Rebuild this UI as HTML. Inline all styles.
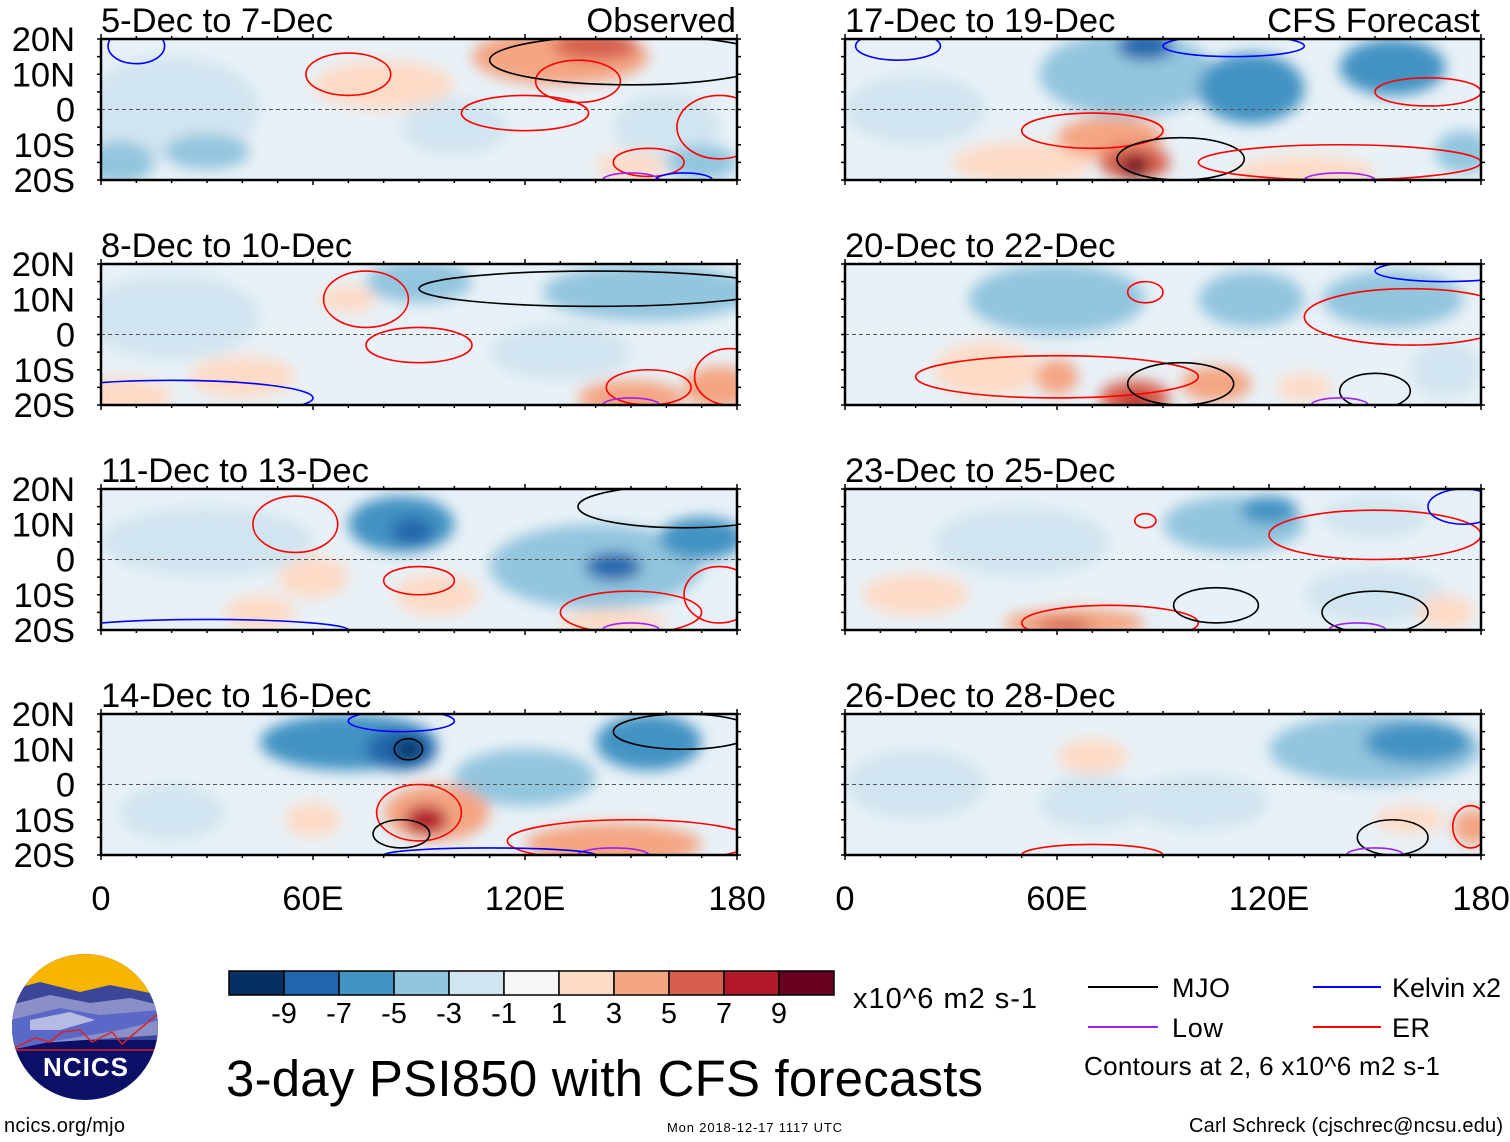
<!DOCTYPE html>
<html><head><meta charset="utf-8">
<style>
html,body{margin:0;padding:0;background:#fff;width:1510px;height:1142px;overflow:hidden;font-family:"Liberation Sans",Arial,sans-serif;}
svg text{font-family:"Liberation Sans",Arial,sans-serif;}
</style></head>
<body>
<svg id="fig" width="1510" height="1142" viewBox="0 0 1510 1142" xmlns="http://www.w3.org/2000/svg">
<defs>
<filter id="blur" x="-50%" y="-50%" width="200%" height="200%"><feGaussianBlur stdDeviation="7"/></filter>
<clipPath id="logoclip"><circle cx="85" cy="1027" r="73"/></clipPath>
</defs>
<g id="panels"></g>

<g id="colorbar"></g>
<text x="853" y="1008" font-size="29" textLength="184">x10^6 m2 s-1</text>

<g clip-path="url(#logoclip)">
<rect x="10" y="950" width="150" height="160" fill="#0b0f66"/>
<rect x="10" y="950" width="150" height="60" fill="#f7b500"/>
<path d="M10 990 L40 982 L80 992 L110 985 L160 995 L160 1040 L10 1040Z" fill="#3b4699"/>
<path d="M10 1005 L50 995 L90 1003 L130 998 L160 1005 L160 1035 L10 1045Z" fill="#8a8fc8"/>
<path d="M10 1020 L60 1008 L100 1015 L160 1010 L160 1020 L120 1030 L60 1040 L10 1050Z" fill="#5a68c8"/>
<path d="M30 1020 L70 1012 L95 1020 L60 1030 L30 1030Z" fill="#b6bbe6"/>
<path d="M10 1050 L35 1038 L50 1042 L62 1032 L80 1030 L92 1042 L112 1032 L122 1044 L160 1012 L160 1050Z" fill="none" stroke="#e02020" stroke-width="1.5"/>
</g>
<text x="86" y="1076" font-size="26" font-weight="bold" fill="#fff" text-anchor="middle" letter-spacing="1">NCICS</text>
<text x="4" y="1132" font-size="20" textLength="121">ncics.org/mjo</text>
<text x="226" y="1096" font-size="51" textLength="757">3-day PSI850 with CFS forecasts</text>
<text x="667" y="1132" font-size="13" textLength="175">Mon 2018-12-17 1117 UTC</text>
<text x="1189" y="1132" font-size="20" textLength="314">Carl Schreck (cjschrec@ncsu.edu)</text>

<g>
<line x1="1088" y1="987" x2="1158" y2="987" stroke="#000" stroke-width="2"/>
<text x="1172" y="997" font-size="27" textLength="58">MJO</text>
<line x1="1313" y1="987" x2="1381" y2="987" stroke="#0000ff" stroke-width="2"/>
<text x="1392" y="997" font-size="27" textLength="109">Kelvin x2</text>
<line x1="1088" y1="1027" x2="1158" y2="1027" stroke="#a020f0" stroke-width="2"/>
<text x="1172" y="1037" font-size="27" textLength="51">Low</text>
<line x1="1313" y1="1027" x2="1381" y2="1027" stroke="#ff0000" stroke-width="2"/>
<text x="1392" y="1037" font-size="27" textLength="38">ER</text>
<text x="1084" y="1075" font-size="26" textLength="356">Contours at 2, 6 x10^6 m2 s-1</text>
</g>
</svg>
<script>
const NS='http://www.w3.org/2000/svg';
const binEdges=[-9,-7,-5,-3,-1,1,3,5,7,9];
const binColors=['#053061','#2166ac','#4393c3','#92c5de','#d1e5f0','#f7f7f7','#fddbc7','#f4a582','#d6604d','#b2182b','#67001f'];
const colorbarLabels=['-9','-7','-5','-3','-1','1','3','5','7','9'];
const lonTickLabels=['0','60E','120E','180'];
const lonTickValues=[0,60,120,180];
const latTickLabels=['20N','10N','0','10S','20S'];
const latTickValues=[20,10,0,-10,-20];
const panelTitles=['5-Dec to 7-Dec','8-Dec to 10-Dec','11-Dec to 13-Dec','14-Dec to 16-Dec','17-Dec to 19-Dec','20-Dec to 22-Dec','23-Dec to 25-Dec','26-Dec to 28-Dec'];
const blobs0=[[20,0,25,15,-2],[30,-12,12,5,-4],[5,-15,10,6,-4],[80,7,20,7,2],[130,15,25,8,4],[140,18,12,4,6],[170,-15,10,5,-3],[160,-5,15,10,-2],[100,-5,15,8,-2],[150,-16,10,4,3]];
const blobs1=[[20,5,25,12,-2],[5,-18,15,6,3],[90,15,15,6,-3],[155,12,30,8,-3],[150,-18,15,5,4],[175,-15,10,6,4],[70,10,8,4,2],[130,-5,20,8,-2],[40,-12,15,6,2]];
const blobs2=[[85,10,15,8,-5],[88,8,6,4,-8],[140,-2,30,12,-4],[145,-2,8,4,-7],[170,6,12,6,-5],[60,-5,10,6,2],[95,-10,12,6,2],[145,-18,15,4,3],[30,5,30,10,-2],[45,-15,10,5,2]];
const blobs3=[[70,12,25,8,-5],[85,10,10,6,-7],[87,10,4,3,-10],[155,12,15,8,-6],[95,-8,15,8,4],[92,-10,6,4,8],[145,-17,25,6,5],[60,-10,8,5,3],[120,2,20,8,-3],[20,-8,15,8,-2]];
const blobs4=[[80,10,25,12,-4],[85,18,8,4,-8],[115,6,15,10,-5],[155,12,15,8,-5],[175,-12,8,6,-4],[75,-8,15,6,4],[82,-15,10,5,7],[82,-16,4,3,10],[130,-18,20,5,3],[50,-15,20,6,2],[20,0,20,10,-1.5]];
const blobs5=[[60,10,25,10,-3],[115,10,15,8,-4],[155,10,20,8,-3],[60,-12,6,5,5],[82,-18,10,5,6],[82,-19,4,2,9],[105,-14,10,5,4],[130,-15,8,4,3],[40,-10,15,8,2],[170,-10,10,8,-2]];
const blobs6=[[50,5,25,10,-2],[110,10,20,8,-3],[120,14,8,4,-5],[150,12,15,6,-2],[65,-18,20,4,4],[62,-19,8,2,7],[150,-10,20,8,-2],[170,-15,8,5,3],[20,-10,15,6,2]];
const blobs7=[[150,10,30,10,-3],[162,12,15,6,-5],[70,-5,15,8,-2],[100,-5,20,8,-1.5],[160,-10,10,4,3],[178,-12,6,5,5],[20,0,20,10,-1.5],[70,8,10,5,2]];
const panelBlobs=[blobs0,blobs1,blobs2,blobs3,blobs4,blobs5,blobs6,blobs7];
const contours0=[[10,18,8,5,'K'],[70,10,12,6,'E'],[120,-1,18,5,'E'],[135,8,12,6,'E'],[150,14,40,7,'M'],[175,-5,12,9,'E'],[155,-15,10,4,'E'],[150,-20,8,2,'L'],[165,-20,8,2,'K']];
const contours1=[[75,10,12,8,'E'],[90,-3,15,5,'E'],[140,13,50,5,'M'],[155,-15,12,5,'E'],[178,-12,10,8,'E'],[20,-18,40,5,'K'],[150,-20,8,2,'L']];
const contours2=[[55,10,12,8,'E'],[90,-6,10,4,'E'],[165,15,30,6,'M'],[150,-15,20,6,'E'],[175,-10,10,8,'E'],[30,-20,40,3,'K'],[150,-20,8,2,'L']];
const contours3=[[85,18,15,3,'K'],[87,10,4,3,'M'],[90,-8,12,8,'E'],[85,-14,8,4,'M'],[150,-16,35,6,'E'],[165,15,20,5,'M'],[145,-20,10,2,'L'],[110,-20,30,2,'K']];
const contours4=[[15,18,12,4,'K'],[110,18,20,3,'K'],[70,-6,20,5,'E'],[95,-14,18,6,'M'],[140,-15,40,5,'E'],[165,5,15,4,'E'],[140,-20,10,2,'L']];
const contours5=[[85,12,5,3,'E'],[160,5,30,8,'E'],[60,-12,40,6,'E'],[95,-14,15,6,'M'],[150,-16,10,5,'M'],[140,-20,8,2,'L'],[170,18,20,3,'K']];
const contours6=[[85,11,3,2,'E'],[150,7,30,7,'E'],[75,-18,25,5,'E'],[105,-13,12,5,'M'],[150,-15,15,6,'M'],[145,-20,8,2,'L'],[175,15,10,5,'K']];
const contours7=[[155,-15,10,5,'M'],[150,-20,8,2,'L'],[70,-20,20,3,'E'],[177,-12,5,6,'E']];
const panelContours=[contours0,contours1,contours2,contours3,contours4,contours5,contours6,contours7];

const contourColor={M:'#000000',K:'#0000ff',L:'#a020f0',E:'#ff0000'};
const PW=636,PH=141;
const panelX=[101,101,101,101,845,845,845,845];
const panelY=[39,264,489,714,39,264,489,714];
function colorFor(v){let i=0;while(i<binEdges.length&&v>binEdges[i])i++;return binColors[i];}
function xScale(px,lon){return px+lon/180*PW;}
function yScale(py,lat){return py+(20-lat)/40*PH;}
function mk(tag,attrs,parent){const e=document.createElementNS(NS,tag);for(const k in attrs)e.setAttribute(k,attrs[k]);parent.appendChild(e);return e;}
const root=document.getElementById('panels');
for(let p=0;p<8;p++){
  const px=panelX[p],py=panelY[p];
  const g=mk('g',{},root);
  
  
  const cp=mk('clipPath',{id:'clip'+p},g);
  mk('rect',{x:px,y:py,width:PW,height:PH},cp);
  const field=mk('g',{'clip-path':'url(#clip'+p+')'},g);
  mk('rect',{x:px,y:py,width:PW,height:PH,fill:'#e8f1f7'},field);
  const bg=mk('g',{filter:'url(#blur)'},field);
  const sorted=panelBlobs[p].slice().sort((a,b)=>Math.abs(a[4])-Math.abs(b[4]));
  for(const b of sorted){
    const e=mk('ellipse',{cx:xScale(px,b[0]),cy:yScale(py,b[1]),rx:b[2]/180*PW,ry:b[3]/40*PH,fill:colorFor(b[4])},bg);
    
    
  }
  mk('line',{x1:px,y1:yScale(py,0),x2:px+PW,y2:yScale(py,0),stroke:'#555','stroke-dasharray':'4,3','stroke-width':1},field);
  for(const c of panelContours[p]){
    const e=mk('ellipse',{cx:xScale(px,c[0]),cy:yScale(py,c[1]),rx:c[2]/180*PW,ry:c[3]/40*PH,fill:'none',stroke:contourColor[c[4]],'stroke-width':1.6},field);
    
    
  }
  mk('rect',{x:px,y:py,width:PW,height:PH,fill:'none',stroke:'#000','stroke-width':2.5},g);
  for(let lon=0;lon<=180;lon+=10){
    const x=xScale(px,lon);const big=lon%60==0;
    mk('line',{x1:x,y1:py-(big?5:3),x2:x,y2:py,stroke:'#000','stroke-width':1.5},g);
    mk('line',{x1:x,y1:py+PH,x2:x,y2:py+PH+(big?5:3),stroke:'#000','stroke-width':1.5},g);
  }
  for(let lat=-20;lat<=20;lat+=5){
    const y=yScale(py,lat);
    mk('line',{x1:px-4,y1:y,x2:px,y2:y,stroke:'#000','stroke-width':1.5},g);
    mk('line',{x1:px+PW,y1:y,x2:px+PW+4,y2:y,stroke:'#000','stroke-width':1.5},g);
  }
  const t=mk('text',{x:px,y:py-7,'font-size':34.5},g);t.textContent=panelTitles[p];
  
  
  if(p==0||p==4){const s=mk('text',{x:px+PW-1,y:py-7,'font-size':34.5,'text-anchor':'end'},g);s.textContent=p==0?'Observed':'CFS Forecast';
    
    }
  if(p<4){for(let i=0;i<latTickValues.length;i++){const l=mk('text',{x:75,y:yScale(py,latTickValues[i])+12,'font-size':34.5,'text-anchor':'end'},g);l.textContent=latTickLabels[i];
    
    }}
  if(p==3||p==7){for(let i=0;i<lonTickValues.length;i++){const l=mk('text',{x:xScale(px,lonTickValues[i]),y:py+PH+55,'font-size':34.5,'text-anchor':'middle'},g);l.textContent=lonTickLabels[i];
    
    }}
}
const cb=document.getElementById('colorbar');
const cbx=229,cbw=55,cby=971,cbh=24;
for(let i=0;i<binColors.length;i++){
  const r=mk('rect',{x:cbx+i*cbw,y:cby,width:cbw,height:cbh,fill:binColors[i],stroke:'#000','stroke-width':1.5},cb);
  
  
}
for(let i=0;i<colorbarLabels.length;i++){
  const t=mk('text',{x:cbx+(i+1)*cbw,y:1023,'font-size':29,'text-anchor':'middle'},cb);t.textContent=colorbarLabels[i];
  
  
}
</script>
</body></html>
